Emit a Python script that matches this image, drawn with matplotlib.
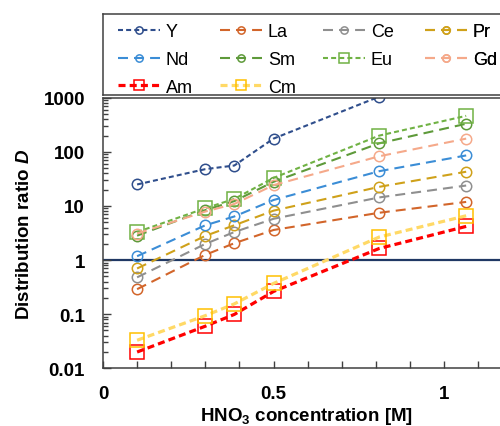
import numpy as np
import matplotlib
matplotlib.use("Agg")
import matplotlib.pyplot as plt
from matplotlib.ticker import FixedLocator, LogLocator, NullFormatter, FuncFormatter

plt.rcParams['font.family'] = ['Liberation Sans', 'DejaVu Sans']
plt.rcParams['mathtext.fontset'] = 'custom'
plt.rcParams['mathtext.rm'] = 'Liberation Sans:bold'
plt.rcParams['mathtext.bf'] = 'Liberation Sans:bold'
plt.rcParams['mathtext.it'] = 'Liberation Sans:bold:italic'

# HNO3 concentration [M]
hno3 = [0.1, 0.3, 0.385, 0.5, 0.81, 1.065]

# distribution ratios per element
D_Y  = [25, 48, 56, 176, 1050, 3000]
D_La = [0.29, 1.25, 2.05, 3.6, 7.5, 11.9]
D_Ce = [0.48, 1.99, 3.3, 5.8, 14.4, 23.9]
D_Pr = [0.70, 2.8, 4.4, 8.2, 22.6, 43]
D_Nd = [1.18, 4.4, 6.4, 12.9, 44, 86]
D_Sm = [2.83, 8.4, 12.3, 28, 144, 331]
D_Eu = [3.3, 9.1, 13.5, 33, 200, 464]
D_Gd = [3.1, 7.9, 10.9, 24.3, 83, 176]
D_Am = [0.020, 0.060, 0.099, 0.263, 1.64, 4.2]
D_Cm = [0.033, 0.094, 0.155, 0.37, 2.67, 6.6]

W, H = 500.0, 427.0
fig = plt.figure(figsize=(5.0, 4.27), dpi=100)

# main plot and the boxed legend strip sitting on top of it
ax = fig.add_axes([103/W, (H-369.3)/H, 407/W, (369.3-98.8)/H])
lax = fig.add_axes([103/W, (H-95.8)/H, 407/W, (95.8-15)/H])

frame_col = '#404040'
short = (0, (2.4, 1.5))
long_ = (0, (4.8, 2.9))

def series(y, col, ls, marker='o', lw=1.5, ms=7.5, mec=None, label=None):
    return ax.plot(hno3, y, color=col, ls=ls, lw=lw, marker=marker, ms=ms,
                   mfc='none', mec=mec or col, mew=1.1, label=label)[0]

hY  = series(D_Y,  '#2F4E8C', short, label='Y')
hLa = series(D_La, '#D2652A', long_, label='La')
hCe = series(D_Ce, '#8F8F8F', long_, label='Ce')
hPr = series(D_Pr, '#CFA11A', long_, label='Pr')
hNd = series(D_Nd, '#3B8DD6', long_, label='Nd')
hSm = series(D_Sm, '#5E9A3A', long_, label='Sm')
hEu = series(D_Eu, '#70B244', short, marker='s', ms=9.5, label='Eu')
hGd = series(D_Gd, '#F5A98A', long_, label='Gd')
hAm = series(D_Am, '#FF0000', (0, (2.2, 1.3)), marker='s', lw=2.3, ms=9.5, label='Am')
hCm = series(D_Cm, '#FFD966', (0, (2.2, 1.3)), marker='s', lw=2.3, ms=9.5,
             mec='#FFC000', label='Cm')

ax.axhline(1, color='#203864', lw=1.6, zorder=1)

ax.set_yscale('log')
ax.set_ylim(0.01, 1000)
ax.set_xlim(0, 407/341.0)

ax.xaxis.set_major_locator(FixedLocator([0, 0.5, 1.0]))
ax.xaxis.set_minor_locator(FixedLocator(np.arange(0.1, 1.2, 0.1)))
ax.xaxis.set_major_formatter(FuncFormatter(lambda v, p: '%g' % v))
ax.yaxis.set_major_locator(LogLocator(base=10, numticks=10))
ax.yaxis.set_minor_locator(LogLocator(base=10, subs=np.arange(2, 10), numticks=10))
ax.yaxis.set_minor_formatter(NullFormatter())
ax.yaxis.set_major_formatter(FuncFormatter(lambda v, p: '%g' % v))

ax.tick_params(axis='both', which='both', direction='in', color=frame_col, width=1.0)
ax.tick_params(axis='x', which='both', length=5, pad=12)
ax.tick_params(axis='y', which='major', length=6, pad=13)
ax.tick_params(axis='y', which='minor', length=3.5)
for t in ax.get_xticklabels() + ax.get_yticklabels():
    t.set_fontsize(13.5)
    t.set_fontweight('bold')

for s in list(ax.spines.values()) + list(lax.spines.values()):
    s.set_color(frame_col)
    s.set_linewidth(1.1)
lax.set_xticks([])
lax.set_yticks([])

ax.set_ylabel('Distribution ratio $D$', fontsize=13.5, fontweight='bold')
ax.set_xlabel('HNO$_3$ concentration [M]', fontsize=13.5, fontweight='bold')
ax.yaxis.set_label_coords(-(103 - 33) / 407.0, 0.5)
ax.xaxis.set_label_coords((307 - 103) / 407.0, -(406.5 - 369.3) / 270.5)

# legend laid out as four evenly spaced columns
columns = [[hY, hNd, hAm], [hLa, hSm, hCm], [hCe, hEu], [hPr, hGd]]
col_x = [118, 220, 323, 425]
for hs, x0 in zip(columns, col_x):
    leg = lax.legend(handles=hs, labels=[h.get_label() for h in hs],
                     loc='upper left', bbox_to_anchor=(x0/W, 1 - 24/H),
                     bbox_transform=fig.transFigure, frameon=False, fontsize=13,
                     borderpad=0, borderaxespad=0, handlelength=2.35,
                     handletextpad=0.3, labelspacing=0.6, markerscale=0.7)
    lax.add_artist(leg)

fig.savefig('out.png', dpi=100)
